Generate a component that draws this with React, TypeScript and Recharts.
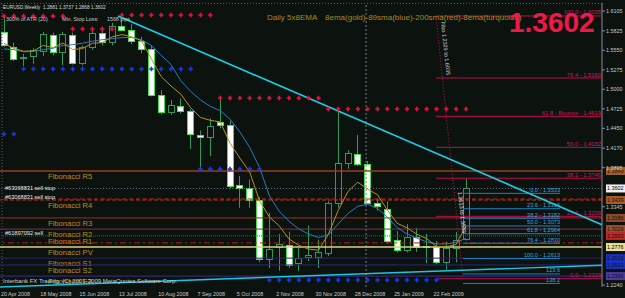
import React from 'react';
import { ComposedChart, Bar, Line, XAxis, YAxis, ReferenceLine } from 'recharts';

const BG = '#0c130f';
const AXIS_TEXT = '#c8c8c8';
const FONT = '"Liberation Sans", Arial, sans-serif';
const CHART_H = 298;

// EURUSD weekly bars, 20 Apr 2008 .. 15 Mar 2009
const opens = [1.5810, 1.5600, 1.5440, 1.5460, 1.5540, 1.5767, 1.5528, 1.5770, 1.5380, 1.5600, 1.5800, 1.5680, 1.5900, 1.5840, 1.5680, 1.5570, 1.4920, 1.4680, 1.4770, 1.4690, 1.4360, 1.4330, 1.4540, 1.4500, 1.3650, 1.3610, 1.3440, 1.2610, 1.2777, 1.2805, 1.2552, 1.2636, 1.2636, 1.2700, 1.3400, 1.3962, 1.4090, 1.3950, 1.3400, 1.3317, 1.2877, 1.2736, 1.2920, 1.2790, 1.2778, 1.2565, 1.2765, 1.2881];
const highs = [1.6019, 1.5660, 1.5500, 1.5580, 1.5810, 1.5800, 1.5810, 1.5800, 1.5620, 1.5870, 1.5870, 1.5940, 1.6038, 1.5920, 1.5740, 1.5620, 1.4990, 1.4850, 1.4870, 1.4720, 1.4420, 1.4590, 1.4867, 1.4560, 1.3780, 1.3730, 1.3480, 1.3260, 1.2960, 1.2990, 1.2760, 1.3080, 1.2880, 1.3420, 1.4720, 1.4140, 1.4357, 1.3990, 1.3460, 1.3420, 1.3000, 1.3100, 1.3045, 1.2960, 1.2860, 1.2850, 1.2990, 1.3737];
const lows = [1.5600, 1.5400, 1.5330, 1.5360, 1.5470, 1.5480, 1.5340, 1.5350, 1.5340, 1.5560, 1.5620, 1.5620, 1.5820, 1.5640, 1.5510, 1.4900, 1.4650, 1.4640, 1.4660, 1.4160, 1.3880, 1.4060, 1.4450, 1.3600, 1.3330, 1.3330, 1.2560, 1.2480, 1.2440, 1.2480, 1.2440, 1.2580, 1.2480, 1.2650, 1.3330, 1.3880, 1.3920, 1.3380, 1.3290, 1.2820, 1.2700, 1.2700, 1.2707, 1.2550, 1.2530, 1.2460, 1.2560, 1.2868];
const closes = [1.5630, 1.5430, 1.5460, 1.5550, 1.5776, 1.5528, 1.5780, 1.5380, 1.5600, 1.5800, 1.5680, 1.5900, 1.5840, 1.5680, 1.5570, 1.4920, 1.4680, 1.4780, 1.4700, 1.4360, 1.4330, 1.4480, 1.4500, 1.3640, 1.3610, 1.3440, 1.2610, 1.2750, 1.2820, 1.2522, 1.2622, 1.2665, 1.2700, 1.3400, 1.3962, 1.4100, 1.3950, 1.3400, 1.3355, 1.2865, 1.2736, 1.2920, 1.2778, 1.2770, 1.2565, 1.2765, 1.2881, 1.3602];

// moving averages
const emaGold = [1.5650, 1.5577, 1.5538, 1.5542, 1.5620, 1.5589, 1.5653, 1.5562, 1.5575, 1.5650, 1.5660, 1.5740, 1.5773, 1.5742, 1.5685, 1.5430, 1.5180, 1.5047, 1.4931, 1.4741, 1.4604, 1.4563, 1.4542, 1.4241, 1.4031, 1.3834, 1.3426, 1.3201, 1.3074, 1.2890, 1.2801, 1.2746, 1.2731, 1.2954, 1.3290, 1.3560, 1.3690, 1.3593, 1.3514, 1.3298, 1.3111, 1.3047, 1.2957, 1.2895, 1.2785, 1.2778, 1.2812, 1.3075];
const smaBlue = [1.5570, 1.5560, 1.5530, 1.5535, 1.5560, 1.5580, 1.5620, 1.5630, 1.5650, 1.5680, 1.5700, 1.5715, 1.5730, 1.5730, 1.5700, 1.5620, 1.5480, 1.5350, 1.5120, 1.4970, 1.4850, 1.4760, 1.4700, 1.4580, 1.4400, 1.4180, 1.3900, 1.3500, 1.3280, 1.3140, 1.3030, 1.2960, 1.2910, 1.2950, 1.3100, 1.3250, 1.3350, 1.3380, 1.3320, 1.3200, 1.3050, 1.2960, 1.2900, 1.2850, 1.2820, 1.2820, 1.2840, 1.2900];

// ATR stop dots
const stopRed = [1.6034, 1.6034, 1.6034, 1.6034, 1.6034, 1.6034, 1.6034, 1.5851, 1.5851, 1.5851, 1.5851, 1.5851, 1.6049, 1.6049, 1.6049, 1.6049, 1.6049, 1.6049, 1.6049, 1.6049, 1.6049, 1.6049, 1.4878, 1.4878, 1.4878, 1.4878, 1.4878, 1.4878, 1.4878, 1.4878, 1.4878, 1.4878, 1.4878, 1.4723, 1.4723, 1.4723, 1.4723, 1.4723, 1.4723, 1.4723, 1.4723, 1.4723, 1.4723, 1.4723, 1.4723, 1.4723, 1.4723, 1.4723];
const stopBlue = [1.4370, 1.4370, 1.5287, 1.5287, 1.5287, 1.5287, 1.5287, 1.5287, 1.5287, 1.5287, 1.5287, 1.5287, 1.5287, 1.5287, 1.5287, 1.5287, 1.5287, 1.5287, 1.5287, 1.5287, 1.3876, 1.3876, 1.3876, 1.3876, 1.3876, 1.3876, 1.3876, 1.2311, 1.2311, 1.2311, 1.2311, 1.2311, 1.2311, 1.2311, 1.2311, 1.2311, 1.2311, 1.2311, 1.2311, 1.2311, 1.2311, 1.2311, 1.2311, 1.2311, 1.2311, null, null, null];

const dateTickIdx = [0, 4, 8, 12, 16, 20, 24, 28, 32, 36, 40, 44];
const dateTickLabels = ['20 Apr 2008', '18 May 2008', '15 Jun 2008', '13 Jul 2008', '10 Aug 2008', '7 Sep 2008', '5 Oct 2008', '2 Nov 2008', '30 Nov 2008', '28 Dec 2008', '25 Jan 2009', '22 Feb 2009'];
const priceTicks = [1.6105, 1.5825, 1.5550, 1.5275, 1.5000, 1.4725, 1.4450, 1.4170, 1.3895, 1.3345, 1.2240];

const pivotNames = ['Fibonacci R5', 'Fibonacci R4', 'Fibonacci R3', 'Fibonacci R2', 'Fibonacci R1', 'Fibonacci PV', 'Fibonacci S1', 'Fibonacci S2', 'Fibonacci S3'];
const pivotPrices = [1.3849, 1.3439, 1.3186, 1.3029, 1.2933, 1.2776, 1.2619, 1.2523, 1.2366];
const pivotStroke = ['#9a3c1c', '#b83a1a', '#9a3020', '#803048', '#c02020', '#d8d080', '#2a2260', '#2c2676', '#3a2c8c'];
const pivotDash = ['', '4 2', '', '', '1 1', '', '', '', ''];
const pivotTagBg = ['#a0602a', '#a8582a', '#8a4a28', '#9a5030', '#c02828', '#e8e090', '#1830c0', '#1830c0', '#4a3aa0'];

const fibLabels = ['100.0 - 1.6035', '76.4 - 1.5160', '61.8 - Bounce - 1.4619', '50.0 - 1.4182', '38.2 - 1.3746', '23.6 - 1.3209', '0.0 - 1.2329'];
const fibPrices = [1.6035, 1.5160, 1.4619, 1.4182, 1.3746, 1.3209, 1.2329];
const fib2Labels = ['0.0 - 1.3533', '23.6 - 1.3316', '38.2 - 1.3182', '50.0 - 1.3073', '61.8 - 1.2964', '76.4 - 1.2830', '100.0 - 1.2613', '123.6', '138.2'];
const fib2Prices = [1.3533, 1.3316, 1.3182, 1.3073, 1.2964, 1.2830, 1.2613, 1.2396, 1.2262];

const cyanTrend = [[11.61, 1.6034], [60.84, 1.3089]];
const lowTrend = [[-0.5, 1.2212], [60.84, 1.2519]];
const fibDiagonal = [[43.96, 1.6035], [46.7, 1.2329]];
const fibSpan = [43.96, 60.74];
const fib2Span = [46.7, 56.57];
const bidPrice = 1.3602;
const orderPrices = [1.3454, 1.2834];

const SLOTS = 61;
const rows = Array.from({ length: SLOTS }, (_, i) =>
  i < opens.length
    ? { i, range: [lows[i], highs[i]], o: opens[i], h: highs[i], l: lows[i], c: closes[i], gold: emaGold[i], blue: smaBlue[i], red: stopRed[i], bstop: stopBlue[i] }
    : { i }
);

const Candle = (props: any) => {
  const { x, width, y, height, payload } = props;
  if (!payload || payload.o == null) return <g />;
  const top = height < 0 ? y + height : y;
  const h = Math.abs(height);
  const span = payload.h - payload.l;
  const k = span > 0 ? h / span : 0;
  const cx = Math.round(x + width / 2) + 0.5;
  const b1 = top + (payload.h - Math.max(payload.o, payload.c)) * k;
  const b2 = top + (payload.h - Math.min(payload.o, payload.c)) * k;
  const bear = payload.c < payload.o;
  return (
    <g>
      <line x1={cx} x2={cx} y1={top} y2={top + h} stroke="#2f9a5c" strokeWidth={1} />
      <rect x={cx - 3} y={Math.round(b1) + 0.5} width={6} height={Math.max(1, Math.round(b2 - b1))}
        fill={bear ? '#ffffff' : BG} stroke={bear ? '#3fe04a' : '#2f9a5c'} strokeWidth={1} />
    </g>
  );
};

const cross = (color: string) => (p: any) => {
  if (p.value == null || p.cy == null || isNaN(p.cy)) return <g key={`e${p.index}`} />;
  return <path key={`d${p.index}`} d={`M${p.cx - 2.2},${p.cy}h4.4M${p.cx},${p.cy - 2.2}v4.4`} stroke={color} strokeWidth={1.7} />;
};

const PriceTag = ({ x, y, text, bg, fg }: any) => (
  <g>
    <rect x={x} y={y - 4} width={19} height={8} fill={bg} />
    <text x={x + 1} y={y + 2} fontSize={5.4} fill={fg} fontFamily={FONT}>{text}</text>
  </g>
);

const pivotLabel = (i: number) => (p: any) => {
  const vb = p.viewBox;
  if (!vb) return null;
  return (
    <g>
      <text x={vb.x + 49} y={vb.y + 8} fontSize={7.6} fill="#b8901c" fontFamily={FONT}>{pivotNames[i]}</text>
      <PriceTag x={vb.x + vb.width + 4} y={vb.y} text={pivotPrices[i].toFixed(4)} bg={pivotTagBg[i]} fg={i === 5 ? '#000' : '#1a1008'} />
    </g>
  );
};

const fibLabel = (text: string, color: string, size: number) => (p: any) => {
  const vb = p.viewBox;
  if (!vb) return null;
  return <text x={vb.x + vb.width} y={vb.y - 1.5} textAnchor="end" fontSize={size} fill={color} fontFamily={FONT}>{text}</text>;
};

const bidLabel = (p: any) => {
  const vb = p.viewBox;
  if (!vb) return null;
  return <PriceTag x={vb.x + vb.width + 4} y={vb.y} text={bidPrice.toFixed(4)} bg="#f0f0f0" fg="#000" />;
};

// date labels sit on the bottom strip, left-aligned at their bar
const DateTick = (p: any) => {
  const idx = dateTickIdx.indexOf(p.payload.value);
  return <text x={p.x - 3} y={CHART_H - 2.5} fontSize={5.4} fill={AXIS_TEXT} fontFamily={FONT}>{dateTickLabels[idx]}</text>;
};

const PriceTick = (p: any) => (
  <text x={p.x} y={p.y + 2} fontSize={5.4} fill={AXIS_TEXT} fontFamily={FONT}>{p.payload.value.toFixed(4)}</text>
);

export default function App() {
  return (
    <div style={{ position: 'absolute', left: 0, top: 0, width: 625, height: CHART_H, overflow: 'hidden', background: BG }}>
      <div style={{ position: 'absolute', left: -1, top: 0 }}>
        <ComposedChart width={626} height={CHART_H} data={rows} margin={{ top: 3, right: 0, bottom: 0, left: 0 }}>
          <XAxis xAxisId="c" dataKey="i" type="category" hide padding={{ left: 0, right: 3.37 }} />
          <XAxis xAxisId="n" dataKey="i" type="number" domain={[-0.5, 60.84]} allowDataOverflow ticks={dateTickIdx}
            interval={0} height={11} tickSize={0} tickMargin={0} tickLine={false} axisLine={{ stroke: '#8a8a98' }} tick={<DateTick />} />
          <YAxis yAxisId="p" orientation="right" width={23} domain={[1.2212, 1.6218]} allowDataOverflow ticks={priceTicks}
            interval={0} tickSize={3} tickMargin={1} axisLine={{ stroke: '#8a8a98' }} tickLine={{ stroke: '#8a8a98' }} tick={<PriceTick />} />

          <ReferenceLine xAxisId="n" yAxisId="p" y={1.6212} stroke="#5a5a6a" strokeDasharray="1 2" />
          <ReferenceLine xAxisId="n" yAxisId="p" x={-0.19} stroke="#5a5a6a" strokeDasharray="1 2" />
          <ReferenceLine xAxisId="n" yAxisId="p" x={36.84} stroke="#7a7a8c" strokeDasharray="2 2" />

          {pivotPrices.map((v, i) => (
            <ReferenceLine key={`pv${i}`} xAxisId="n" yAxisId="p" y={v} stroke={pivotStroke[i]}
              strokeWidth={i === 0 || i === 5 ? 1.5 : 1} strokeDasharray={pivotDash[i]} label={pivotLabel(i)} />
          ))}
          <ReferenceLine xAxisId="n" yAxisId="p" y={bidPrice} stroke="#6a6a8a" strokeDasharray="1 2" label={bidLabel} />
          <ReferenceLine xAxisId="n" yAxisId="p" y={orderPrices[0]} stroke="#d01818" strokeDasharray="4 3" />
          <ReferenceLine xAxisId="n" yAxisId="p" y={orderPrices[1]} stroke="#c01818" strokeDasharray="6 3 2 3" />

          {fibPrices.map((v, i) => (
            <ReferenceLine key={`fb${i}`} xAxisId="n" yAxisId="p" ifOverflow="visible" stroke="#b8104a"
              segment={[{ x: fibSpan[0], y: v }, { x: fibSpan[1], y: v }]} label={fibLabel(fibLabels[i], '#d0185a', 5.8)} />
          ))}
          {fib2Prices.map((v, i) => (
            <ReferenceLine key={`fc${i}`} xAxisId="n" yAxisId="p" ifOverflow="visible" stroke="#1e80c0"
              segment={[{ x: fib2Span[0], y: v }, { x: fib2Span[1], y: v }]} label={fibLabel(fib2Labels[i], '#38a8d8', 5.6)} />
          ))}

          <ReferenceLine xAxisId="n" yAxisId="p" ifOverflow="visible" stroke="#d01040" strokeDasharray="1 2"
            segment={[{ x: fibDiagonal[0][0], y: fibDiagonal[0][1] }, { x: fibDiagonal[1][0], y: fibDiagonal[1][1] }]} />
          <ReferenceLine xAxisId="n" yAxisId="p" ifOverflow="visible" stroke="#18d0e8" strokeWidth={1.6}
            segment={[{ x: cyanTrend[0][0], y: cyanTrend[0][1] }, { x: cyanTrend[1][0], y: cyanTrend[1][1] }]} />
          <ReferenceLine xAxisId="n" yAxisId="p" ifOverflow="visible" stroke="#18c8e0" strokeWidth={1.4}
            segment={[{ x: lowTrend[0][0], y: lowTrend[0][1] }, { x: lowTrend[1][0], y: lowTrend[1][1] }]} />

          <Bar xAxisId="c" yAxisId="p" dataKey="range" barSize={7} shape={<Candle />} isAnimationActive={false} />
          <Line xAxisId="n" yAxisId="p" dataKey="blue" stroke="#2a78c0" strokeWidth={1} dot={false} activeDot={false} isAnimationActive={false} />
          <Line xAxisId="n" yAxisId="p" dataKey="gold" stroke="#b8901a" strokeWidth={1} dot={false} activeDot={false} isAnimationActive={false} />
          <Line xAxisId="n" yAxisId="p" dataKey="red" stroke="none" dot={cross('#e8103c')} activeDot={false} isAnimationActive={false} />
          <Line xAxisId="n" yAxisId="p" dataKey="bstop" stroke="none" dot={cross('#1838f0')} activeDot={false} isAnimationActive={false} />
        </ComposedChart>
      </div>
      <svg width={625} height={CHART_H} style={{ position: 'absolute', left: 0, top: 0, pointerEvents: 'none' }} fontFamily={FONT}>
        <text x={3} y={8.5} fontSize={4.8} fill="#d8d8d8" style={{ whiteSpace: 'pre' }}>EURUSD,Weekly  1.2881 1.3737 1.2868 1.3602</text>
        <text x={6} y={21} fontSize={5.3} fill="#c8c8c8">300% of ATR (20)</text>
        <text x={62} y={21} fontSize={5.3} fill="#c8c8c8">Min. Stop Loss:</text>
        <text x={107} y={21} fontSize={5.3} fill="#c8c8c8">1568 pips</text>
        <text x={267} y={20} fontSize={8} fill="#a88a1c">Daily 5x8EMA</text>
        <text x={325} y={20} fontSize={8} fill="#a88a1c">8ema(gold)-89sma(blue)-200sma(red)-8ema(turquoise)</text>
        <text x={509} y={32} fontSize={28} fontWeight="bold" fill="#f01848">1.3602</text>
        <text x={5} y={190} fontSize={5.6} fill="#e8e8e8">#63068831 sell stop</text>
        <text x={5} y={199} fontSize={5.6} fill="#e8e8e8">#63068831 sell stop</text>
        <text x={5} y={235} fontSize={5.6} fill="#e8e8e8">#61897092 sell</text>
        <text x={3} y={283} fontSize={6} fill="#d0d0d0">Interbank FX Trading, (C) 2001-2009 MetaQuotes Software Corp.</text>
        <text x={0} y={0} fontSize={5.5} fill="#d0d0d0" transform="translate(441,22) rotate(84)">Fibo 1.2329 to 1.6035</text>
        <text x={0} y={0} fontSize={5.5} fill="#e8e8e8" transform="translate(458,192) rotate(84)">1.2613 to 1.3533</text>
      </svg>
    </div>
  );
}
